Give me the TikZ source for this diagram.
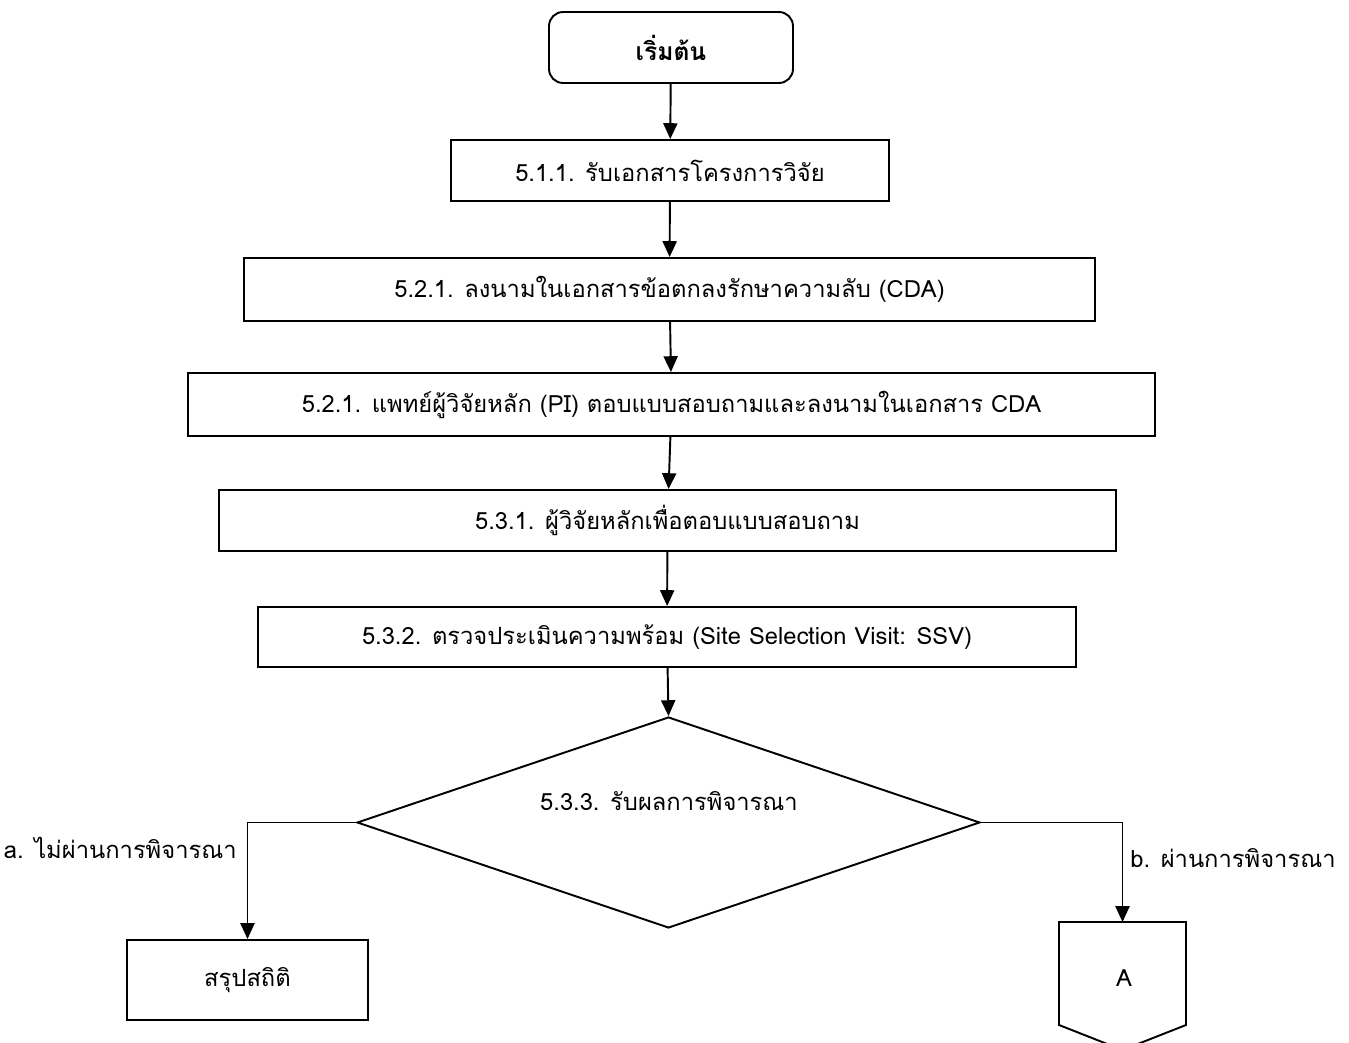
\documentclass[tikz,border=0pt]{standalone}
\usepackage{fontspec}
\setmainfont[Script=Thai]{Loma}
\usepackage{tikz}
\usetikzlibrary{arrows.meta,shapes.geometric}

\tikzset{
	stepbox/.style={draw,line width=1.1pt,inner sep=0pt,font=\fontsize{13.5}{16}\selectfont},
	flow/.style={line width=1.1pt,-{Triangle[width=8pt,length=9pt]}},
	txt/.style={font=\fontsize{13.5}{16}\selectfont,inner sep=0pt}
}

\begin{document}
\begin{tikzpicture}[x=0.02cm,y=-0.02cm]
	\useasboundingbox (0,0) rectangle (1349,1043);
	
	%START
	\node[stepbox,rounded corners=8pt,minimum width=4.88cm,minimum height=1.42cm,font=\fontsize{14}{16}\selectfont\bfseries] (start) at (671,47.5) {เริ่มต้น};
	
	%STEPS
	\node[stepbox,minimum width=8.76cm,minimum height=1.22cm] (receive) at (670,170.5) {5.1.1. รับเอกสารโครงการวิจัย};
	\node[stepbox,minimum width=17.02cm,minimum height=1.26cm] (signcda) at (669.5,289.5) {5.2.1. ลงนามในเอกสารข้อตกลงรักษาความลับ (CDA)};
	\node[stepbox,minimum width=19.34cm,minimum height=1.26cm] (picda) at (671.5,404.5) {5.2.1. แพทย์ผู้วิจัยหลัก (PI) ตอบแบบสอบถามและลงนามในเอกสาร CDA};
	\node[stepbox,minimum width=17.94cm,minimum height=1.22cm] (survey) at (667.5,520.5) {5.3.1. ผู้วิจัยหลักเพื่อตอบแบบสอบถาม};
	\node[stepbox,minimum width=16.36cm,minimum height=1.2cm] (ssv) at (667,637) {5.3.2. ตรวจประเมินความพร้อม (Site Selection Visit: SSV)};
	
	%DECISION
	\node[draw,line width=1.1pt,diamond,inner sep=0pt,minimum width=12.46cm,minimum height=4.22cm] (decide) at (668.5,822.5) {};
	\node[txt] (decidetext) at (669,801) {5.3.3. รับผลการพิจารณา};
	
	%ENDS
	\node[stepbox,minimum width=4.82cm,minimum height=1.6cm] (stats) at (247.5,980) {สรุปสถิติ};
	\coordinate (conA) at (1122.5,922);
	\draw[line width=1.1pt] (conA) -- (1059,922) -- (1059,1025) -- (1122.5,1050) -- (1186,1025) -- (1186,922) -- cycle;
	\node[txt] (conAtext) at (1124,978) {A};
	
	%ARROWS
	\draw[flow] (start) -- (receive);
	\draw[flow] (receive) -- (signcda);
	\draw[flow] (signcda) -- (picda);
	\draw[flow] (picda) -- (survey);
	\draw[flow] (survey) -- (ssv);
	\draw[flow] (ssv) -- (decide.north);
	\draw[flow] (decide.west) -| (stats.north);
	\draw[flow] (decide.east) -| (conA);
	
	%BRANCH LABELS
	\node[txt,anchor=east] (nopass) at (237,848) {a. ไม่ผ่านการพิจารณา};
	\node[txt,anchor=west] (pass) at (1130,858) {b. ผ่านการพิจารณา};
\end{tikzpicture}
\end{document}
